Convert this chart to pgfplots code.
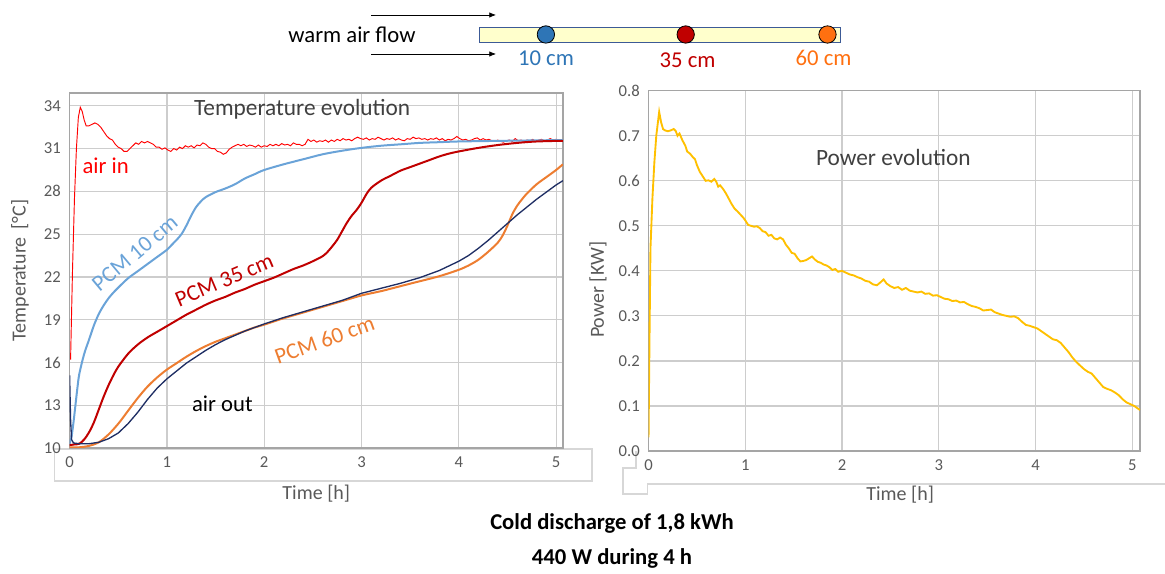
\documentclass[border=0pt]{standalone}
\usepackage{fontspec}
\setmainfont{Carlito}
\usepackage{pgfplots}
\pgfplotsset{compat=1.18}
\usetikzlibrary{arrows.meta}

\definecolor{tickgray}{RGB}{89,89,89}
\definecolor{titlegray}{RGB}{64,64,64}
\definecolor{gridgray}{RGB}{205,205,205}
\definecolor{framegray}{RGB}{165,165,165}
\definecolor{boxgray}{RGB}{215,215,215}
\definecolor{airin}{RGB}{255,0,0}
\definecolor{pcmten}{RGB}{106,163,216}
\definecolor{pcmthirty}{RGB}{192,0,0}
\definecolor{pcmsixty}{RGB}{237,125,49}
\definecolor{airout}{RGB}{31,46,100}
\definecolor{power}{RGB}{255,192,0}
\definecolor{dotblue}{RGB}{46,117,182}
\definecolor{dotorange}{RGB}{255,112,16}
\definecolor{tubefill}{RGB}{255,255,204}
\definecolor{tubeedge}{RGB}{60,90,150}

\pgfplotsset{
  excelaxis/.style={
    scale only axis,
    axis line style={framegray,line width=1.1pt},
    grid=major,
    major grid style={gridgray,line width=0.9pt},
    major tick length=0pt,
    tick label style={font=\fontsize{12.5}{14}\selectfont,text=tickgray},
    xticklabel style={yshift=-3pt},
    yticklabel style={xshift=-3pt},
    /pgf/number format/assume math mode=true,
    label style={font=\fontsize{15}{17}\selectfont,text=tickgray},
    xtick={0,...,5},
  },
}

\begin{document}
\begin{tikzpicture}
\path[use as bounding box] (0,0) rectangle (873.75pt,430.5pt);

% box under the left time axis (pasted-chart leftover)
\begin{scope}[x=0.75pt,y=-0.75pt,yshift=430.5pt]
\draw[boxgray,line width=0.8pt] (54.3,449) rectangle (592,481);
\draw[boxgray,line width=0.8pt] (636,451.5) -- (636,468) -- (623,468) -- (623,494)
  -- (647.5,494) -- (647.5,484) -- (1165,484);
\end{scope}

% ---------------- temperature ----------------
\begin{axis}[excelaxis,
  at={(52.2pt,94.5pt)}, anchor=south west,
  width=370pt, height=266.25pt,
  xmin=0, xmax=5.07, ymin=10, ymax=34.9,
  ytick={10,13,...,34},
  xlabel={Time [h]}, ylabel={Temperature\, [°C]},
  xlabel style={at={(axis description cs:0.5,-0.1296)},anchor=center},
  ylabel style={at={(axis description cs:-0.1005,0.5)},anchor=center},
]
% air in
\addplot[airin,line width=0.7pt] coordinates {
(0.01,16.2)(0.03,22.5)(0.05,27.5)(0.07,31.0)(0.09,33.2)(0.11,33.9)(0.13,33.6)(0.15,33.0)
(0.17,32.6)(0.20,32.6)(0.23,32.7)(0.26,32.8)(0.29,32.7)(0.32,32.5)(0.35,32.2)(0.38,31.9)
(0.41,31.7)(0.44,31.6)(0.47,31.3)(0.50,31.1)(0.53,31.0)(0.56,30.8)(0.59,30.8)(0.62,31.0)
(0.65,31.2)(0.68,31.4)(0.71,31.3)(0.74,31.5)(0.77,31.4)(0.80,31.5)(0.83,31.4)(0.86,31.3)
(0.89,31.1)(0.92,31.1)(0.95,30.95)(0.98,31.05)(1.01,30.9)(1.04,30.8)(1.07,31.0)(1.10,30.9)
(1.13,31.1)(1.16,31.0)(1.19,31.2)(1.22,31.1)(1.25,31.2)(1.28,31.05)(1.31,31.25)(1.34,31.2)
(1.37,31.4)(1.40,31.3)(1.43,31.1)(1.46,31.0)(1.49,31.0)(1.52,30.8)(1.55,30.75)(1.58,30.6)
(1.61,30.7)(1.64,30.95)(1.67,31.1)(1.70,31.2)(1.73,31.3)(1.76,31.2)(1.79,31.3)(1.82,31.15)
(1.85,31.25)(1.88,31.2)(1.91,31.1)(1.94,31.25)(1.97,31.1)(2.00,31.2)(2.03,31.15)(2.06,31.3)
(2.09,31.2)(2.12,31.3)(2.15,31.2)(2.18,31.35)(2.21,31.25)(2.24,31.3)(2.27,31.2)(2.30,31.4)
(2.33,31.3)(2.36,31.3)(2.39,31.2)(2.42,31.3)(2.45,31.65)(2.48,31.5)(2.51,31.6)(2.54,31.45)
(2.57,31.55)(2.60,31.5)(2.63,31.6)(2.66,31.45)(2.69,31.6)(2.72,31.5)(2.75,31.65)(2.78,31.55)
(2.81,31.7)(2.84,31.6)(2.87,31.65)(2.90,31.55)(2.93,31.7)(2.96,31.8)(2.99,31.7)(3.02,31.65)
(3.05,31.75)(3.08,31.6)(3.11,31.7)(3.14,31.65)(3.17,31.8)(3.20,31.7)(3.23,31.6)(3.26,31.7)
(3.29,31.65)(3.32,31.75)(3.35,31.6)(3.38,31.7)(3.41,31.6)(3.44,31.55)(3.47,31.7)(3.50,31.65)
(3.53,31.8)(3.56,31.7)(3.59,31.75)(3.62,31.65)(3.65,31.7)(3.68,31.6)(3.71,31.7)(3.74,31.65)
(3.77,31.75)(3.80,31.6)(3.83,31.7)(3.86,31.55)(3.89,31.65)(3.92,31.6)(3.95,31.7)(3.98,31.85)
(4.01,31.7)(4.04,31.6)(4.07,31.65)(4.10,31.55)(4.13,31.6)(4.16,31.7)(4.19,31.75)(4.22,31.6)
(4.25,31.7)(4.28,31.6)(4.31,31.65)(4.34,31.55)(4.37,31.5)(4.40,31.6)(4.43,31.5)(4.46,31.45)
(4.49,31.55)(4.52,31.6)(4.55,31.5)(4.58,31.7)(4.61,31.55)(4.64,31.6)(4.67,31.5)(4.70,31.6)
(4.73,31.55)(4.76,31.65)(4.79,31.5)(4.82,31.6)(4.85,31.65)(4.88,31.55)(4.91,31.6)(4.94,31.7)
(4.97,31.6)(5.00,31.65)(5.03,31.55)(5.07,31.6)
};
% PCM 10 cm
\addplot[pcmten,line width=1.5pt,smooth] coordinates {
(0.00,10.3)(0.02,10.8)(0.04,11.8)(0.06,13.0)(0.08,14.2)(0.10,15.2)(0.15,16.6)(0.20,17.6)
(0.25,18.6)(0.30,19.4)(0.35,20.0)(0.40,20.5)(0.45,20.9)(0.50,21.25)(0.60,21.9)(0.70,22.4)
(0.80,22.9)(0.90,23.4)(1.00,23.9)(1.05,24.25)(1.10,24.6)(1.15,25.0)(1.20,25.6)(1.25,26.3)
(1.30,26.9)(1.35,27.3)(1.40,27.6)(1.50,27.95)(1.60,28.2)(1.70,28.5)(1.80,28.9)(1.90,29.2)
(2.00,29.5)(2.20,29.9)(2.40,30.25)(2.60,30.6)(2.80,30.85)(3.00,31.05)(3.20,31.2)(3.40,31.3)
(3.60,31.4)(3.80,31.45)(4.00,31.5)(4.50,31.55)(5.07,31.6)
};
% PCM 35 cm
\addplot[pcmthirty,line width=1.5pt,smooth] coordinates {
(0.00,10.2)(0.05,10.25)(0.10,10.3)(0.15,10.6)(0.20,11.1)(0.25,11.8)(0.30,12.7)(0.35,13.6)
(0.40,14.4)(0.45,15.1)(0.50,15.7)(0.60,16.6)(0.70,17.25)(0.80,17.75)(0.90,18.15)(1.00,18.55)
(1.10,18.95)(1.20,19.35)(1.30,19.7)(1.40,20.05)(1.50,20.35)(1.60,20.6)(1.70,20.9)(1.80,21.15)
(1.90,21.45)(2.00,21.7)(2.10,21.95)(2.20,22.25)(2.30,22.55)(2.40,22.8)(2.50,23.1)(2.60,23.45)
(2.65,23.75)(2.70,24.15)(2.75,24.6)(2.80,25.2)(2.85,25.8)(2.90,26.3)(2.95,26.7)(3.00,27.2)
(3.05,27.8)(3.10,28.25)(3.20,28.75)(3.30,29.1)(3.40,29.45)(3.50,29.7)(3.60,29.95)(3.70,30.2)
(3.80,30.45)(3.90,30.65)(4.00,30.8)(4.20,31.05)(4.40,31.25)(4.60,31.4)(4.80,31.5)(5.07,31.55)
};
% PCM 60 cm
\addplot[pcmsixty,line width=1.5pt,smooth] coordinates {
(0.00,10.05)(0.10,10.05)(0.20,10.15)(0.30,10.4)(0.40,10.95)(0.50,11.7)(0.60,12.6)(0.70,13.5)
(0.80,14.3)(0.90,14.95)(1.00,15.5)(1.10,15.95)(1.20,16.4)(1.30,16.8)(1.40,17.15)(1.50,17.45)
(1.60,17.7)(1.70,17.95)(1.80,18.2)(1.90,18.45)(2.00,18.65)(2.20,19.1)(2.40,19.5)(2.60,19.9)
(2.80,20.3)(3.00,20.7)(3.20,21.0)(3.40,21.35)(3.60,21.7)(3.80,22.05)(4.00,22.5)(4.10,22.8)
(4.20,23.2)(4.30,23.75)(4.40,24.4)(4.45,24.9)(4.50,25.6)(4.55,26.4)(4.60,27.0)(4.65,27.45)
(4.70,27.85)(4.80,28.5)(4.90,29.0)(5.00,29.5)(5.07,29.9)
};
% air out
\addplot[airout,line width=1pt] coordinates {
(0.00,15.1)(0.01,12.0)(0.02,10.6)(0.04,10.35)(0.10,10.3)(0.20,10.3)(0.30,10.4)(0.40,10.65)
(0.50,11.05)(0.60,11.7)(0.70,12.5)(0.80,13.4)(0.90,14.2)(1.00,14.85)(1.10,15.4)(1.20,15.95)
(1.30,16.4)(1.40,16.85)(1.50,17.25)(1.60,17.6)(1.70,17.9)(1.80,18.2)(1.90,18.45)(2.00,18.7)
(2.20,19.15)(2.40,19.55)(2.60,19.95)(2.80,20.35)(3.00,20.85)(3.20,21.2)(3.40,21.55)(3.60,21.95)
(3.80,22.45)(4.00,23.1)(4.10,23.5)(4.20,24.0)(4.30,24.55)(4.40,25.15)(4.50,25.75)(4.60,26.35)
(4.70,26.9)(4.80,27.45)(4.90,27.95)(5.00,28.45)(5.07,28.75)
};
\node[font=\fontsize{17.5}{20}\selectfont,text=titlegray] at (axis cs:2.39,33.74) {Temperature evolution};
\node[font=\fontsize{17}{20}\selectfont,text=airin] at (axis cs:0.37,29.76) {air in};
\node[font=\fontsize{17}{20}\selectfont,text=pcmten,rotate=40] at (axis cs:0.67,23.67) {PCM 10 cm};
\node[font=\fontsize{17}{20}\selectfont,text=pcmthirty,rotate=23] at (axis cs:1.59,21.77) {PCM 35 cm};
\node[font=\fontsize{17}{20}\selectfont,text=pcmsixty,rotate=20] at (axis cs:2.62,17.6) {PCM 60 cm};
\node[font=\fontsize{17}{20}\selectfont,text=black] at (axis cs:1.57,13.13) {air out};
\end{axis}

% ---------------- power ----------------
\begin{axis}[excelaxis,
  at={(486.4pt,92.25pt)}, anchor=south west,
  width=368.6pt, height=270.2pt,
  xmin=0, xmax=5.08, ymin=0, ymax=0.8,
  ytick={0,0.1,...,0.8},
  yticklabel style={/pgf/number format/.cd,fixed,fixed zerofill,precision=1},
  xlabel={Time [h]}, ylabel={Power [KW]},
  xlabel style={at={(axis description cs:0.512,-0.122)},anchor=center},
  ylabel style={at={(axis description cs:-0.1028,0.447)},anchor=center},
]
\addplot[power,line width=1.4pt] coordinates {
(0.00,0.03)(0.01,0.25)(0.02,0.45)(0.04,0.56)(0.06,0.64)(0.08,0.70)(0.11,0.753)(0.13,0.73)
(0.15,0.715)(0.17,0.712)(0.20,0.710)(0.23,0.712)(0.26,0.715)(0.28,0.711)(0.30,0.700)(0.32,0.705)
(0.35,0.690)(0.38,0.678)(0.40,0.665)(0.43,0.660)(0.46,0.652)(0.48,0.648)(0.50,0.635)(0.53,0.620)
(0.56,0.610)(0.59,0.600)(0.62,0.601)(0.65,0.598)(0.68,0.604)(0.70,0.598)(0.72,0.587)(0.74,0.590)
(0.77,0.582)(0.80,0.572)(0.83,0.560)(0.86,0.548)(0.89,0.538)(0.92,0.532)(0.95,0.525)(0.98,0.518)
(1.00,0.512)(1.03,0.502)(1.06,0.500)(1.09,0.498)(1.12,0.499)(1.15,0.495)(1.18,0.488)(1.21,0.486)
(1.24,0.478)(1.27,0.480)(1.30,0.472)(1.33,0.470)(1.36,0.474)(1.39,0.470)(1.42,0.458)(1.45,0.450)
(1.48,0.440)(1.51,0.438)(1.54,0.428)(1.57,0.421)(1.60,0.422)(1.63,0.424)(1.66,0.428)(1.69,0.432)
(1.72,0.425)(1.75,0.420)(1.78,0.418)(1.81,0.414)(1.84,0.412)(1.87,0.408)(1.90,0.402)(1.93,0.404)
(1.96,0.398)(2.00,0.400)(2.04,0.396)(2.08,0.392)(2.12,0.390)(2.16,0.386)(2.20,0.383)(2.24,0.378)
(2.28,0.376)(2.32,0.370)(2.36,0.368)(2.40,0.375)(2.43,0.381)(2.46,0.372)(2.50,0.366)(2.54,0.362)
(2.58,0.364)(2.62,0.358)(2.66,0.362)(2.70,0.356)(2.74,0.354)(2.78,0.352)(2.82,0.354)(2.86,0.349)
(2.90,0.350)(2.94,0.345)(2.98,0.346)(3.02,0.342)(3.06,0.338)(3.10,0.337)(3.14,0.333)(3.18,0.334)
(3.22,0.330)(3.26,0.331)(3.30,0.326)(3.34,0.322)(3.38,0.320)(3.42,0.317)(3.46,0.312)(3.50,0.313)
(3.54,0.314)(3.58,0.308)(3.62,0.305)(3.66,0.302)(3.70,0.300)(3.74,0.298)(3.78,0.299)(3.82,0.295)
(3.86,0.287)(3.90,0.280)(3.94,0.278)(3.98,0.275)(4.02,0.272)(4.06,0.266)(4.10,0.260)(4.14,0.254)
(4.18,0.248)(4.22,0.246)(4.26,0.240)(4.30,0.230)(4.34,0.220)(4.38,0.208)(4.42,0.198)(4.46,0.190)
(4.50,0.182)(4.54,0.176)(4.58,0.172)(4.62,0.162)(4.66,0.152)(4.70,0.142)(4.74,0.138)(4.78,0.135)
(4.82,0.130)(4.86,0.124)(4.90,0.115)(4.94,0.108)(4.98,0.104)(5.02,0.100)(5.08,0.091)
};
\node[font=\fontsize{17.5}{20}\selectfont,text=titlegray] at (axis cs:2.53,0.652) {Power evolution};
\end{axis}

% ---------------- sketch of the tube and the caption ----------------
\begin{scope}[x=0.75pt,y=-0.75pt,yshift=430.5pt]
\node[font=\fontsize{17}{20}\selectfont,text=black] at (352,35) {warm air flow};
\draw[-{Latex[length=5pt,width=4pt]},line width=0.5pt] (371,15) -- (496,15);
\draw[-{Latex[length=5pt,width=4pt]},line width=0.5pt] (371,54) -- (496,54);
\draw[fill=tubefill,draw=tubeedge,line width=0.7pt] (479.6,27.3) rectangle (840.9,42.3);
\draw[fill=dotblue,draw=black,line width=0.6pt] (545.9,34.5) circle[radius=6.5pt];
\draw[fill=pcmthirty,draw=black,line width=0.6pt] (685.7,34.5) circle[radius=6.5pt];
\draw[fill=dotorange,draw=black,line width=0.6pt] (827.5,34.5) circle[radius=6.5pt];
\node[font=\fontsize{17}{20}\selectfont,text=dotblue] at (546,58) {10 cm};
\node[font=\fontsize{17}{20}\selectfont,text=pcmthirty] at (687.6,60) {35 cm};
\node[font=\fontsize{17}{20}\selectfont,text=dotorange] at (823.6,58) {60 cm};
\node[font=\bfseries\fontsize{17}{20}\selectfont,text=black] at (612,523) {Cold discharge of 1,8 kWh};
\node[font=\bfseries\fontsize{17}{20}\selectfont,text=black] at (612,558) {440 W during 4 h};
\end{scope}
\end{tikzpicture}
\end{document}
